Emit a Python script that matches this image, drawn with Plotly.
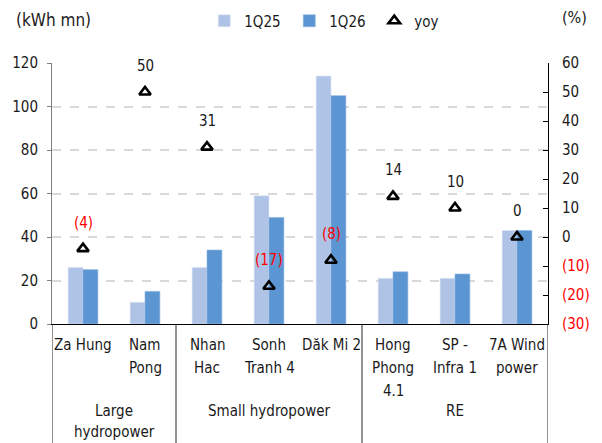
import plotly.graph_objects as go

# Generation volume by plant (kWh mn) and year-on-year change (%)
plants = ["Za Hung", "Nam Pong", "Nhan Hac", "Sonh Tranh 4", "Dăk Mi 2",
          "Hong Phong 4.1", "SP - Infra 1", "7A Wind power"]
plant_lines = [["Za Hung"], ["Nam", "Pong"], ["Nhan", "Hac"], ["Sonh", "Tranh 4"],
               ["Dăk Mi 2"], ["Hong", "Phong", "4.1"], ["SP -", "Infra 1"],
               ["7A Wind", "power"]]
q25 = [26, 10, 26, 59, 114, 21, 21, 43]
q26 = [25, 15, 34, 49, 105, 24, 23, 43]
yoy = [-4, 50, 31, -17, -8, 14, 10, 0]

groups = [["Large", "hydropower"], ["Small hydropower"], ["RE"]]
group_sizes = [2, 3, 3]

left_ticks = [0, 20, 40, 60, 80, 100, 120]
right_ticks = [-30, -20, -10, 0, 10, 20, 30, 40, 50, 60]

FONT = "DejaVu Sans Condensed, DejaVu Sans, sans-serif"
TXT = "#1a1a1a"
RED = "#FF0000"
C25 = "#AFC3E6"
C26 = "#5B96D2"


def pct(v):
    return f"({abs(v)})" if v < 0 else f"{v}"


fig = go.Figure()
fig.add_trace(go.Bar(x=plants, y=q25, name="1Q25", marker_color=C25,
                     marker_line=dict(color="#DCE6F4", width=0.6)))
fig.add_trace(go.Bar(x=plants, y=q26, name="1Q26", marker_color=C26,
                     marker_line=dict(color="#8FB5E0", width=0.6)))
fig.add_trace(go.Scatter(x=plants, y=yoy, name="yoy", yaxis="y2", mode="markers",
                         marker=dict(symbol="triangle-up-open", size=10, color="black",
                                     line=dict(width=2.6, color="black"))))

annotations = []
# yoy value labels above each triangle
for p, v in zip(plants, yoy):
    annotations.append(dict(x=p, y=v, xref="x", yref="y2", text=pct(v), showarrow=False,
                            yshift=26, font=dict(size=15, color=RED if v < 0 else TXT)))

# plant names under the axis, one line at a time
for i, lines in enumerate(plant_lines):
    for j, line in enumerate(lines):
        annotations.append(dict(x=i, y=0, xref="x", yref="paper", text=line,
                                showarrow=False, yanchor="middle", yshift=-21 - 23 * j,
                                font=dict(size=15, color=TXT)))

# segment labels and dividers
shapes = []
start = 0
bottom = -119 / 261
for lines, n in zip(groups, group_sizes):
    centre = start + (n - 1) / 2
    for j, line in enumerate(lines):
        annotations.append(dict(x=centre, y=0, xref="x", yref="paper", text=line,
                                showarrow=False, yanchor="middle", yshift=-87 - 21 * j,
                                font=dict(size=15, color=TXT)))
    start += n
bounds = [-0.5]
acc = -0.5
for n in group_sizes:
    acc += n
    bounds.append(acc)
for b in bounds:
    shapes.append(dict(type="line", xref="x", yref="paper", x0=b, x1=b, y0=0, y1=bottom,
                       line=dict(color="#262626", width=1)))

annotations.append(dict(x=0, y=1, xref="paper", yref="paper", text="(kWh mn)",
                        xanchor="left", yanchor="middle", xshift=-38, yshift=43,
                        showarrow=False, font=dict(size=17, color=TXT)))
annotations.append(dict(x=1, y=1, xref="paper", yref="paper", text="(%)",
                        xanchor="center", yanchor="middle", xshift=26, yshift=46,
                        showarrow=False, font=dict(size=16, color=TXT)))

right_text = [f'<span style="color:{RED}">{pct(v)}</span>' if v < 0 else pct(v)
              for v in right_ticks]

fig.update_layout(
    width=602, height=443,
    margin=dict(l=51, r=53, t=63, b=119),
    paper_bgcolor="white", plot_bgcolor="white",
    font=dict(family=FONT, size=15, color=TXT),
    barmode="group", bargap=0.52, bargroupgap=0,
    showlegend=True,
    legend=dict(orientation="h", x=0.307, y=1 - 21 / 443, xanchor="left",
                yanchor="middle", yref="container", font=dict(size=15), itemwidth=30,
                entrywidth=40, entrywidthmode="pixels", bgcolor="rgba(0,0,0,0)"),
    xaxis=dict(type="category", showticklabels=False, ticks="", showline=True,
               linecolor="black", linewidth=1, showgrid=False, zeroline=False,
               range=[-0.5, 7.5]),
    yaxis=dict(range=[0, 120], tickvals=left_ticks, showline=True, linecolor="#7F7F7F",
               linewidth=1, ticks="outside", ticklen=4, tickcolor="#7F7F7F",
               showgrid=True, gridcolor="#D9D9D9", gridwidth=1.5, griddash="dash",
               zeroline=False, ticklabelstandoff=6, tickfont=dict(size=15)),
    yaxis2=dict(range=[-30, 60], tickvals=right_ticks, ticktext=right_text,
                overlaying="y", side="right", showline=True, linecolor="black",
                linewidth=1, ticks="inside", ticklen=5, tickcolor="black",
                showgrid=False, zeroline=False, ticklabelstandoff=10,
                tickfont=dict(size=15)),
    annotations=annotations,
    shapes=shapes,
)

fig.write_html("out.html")
